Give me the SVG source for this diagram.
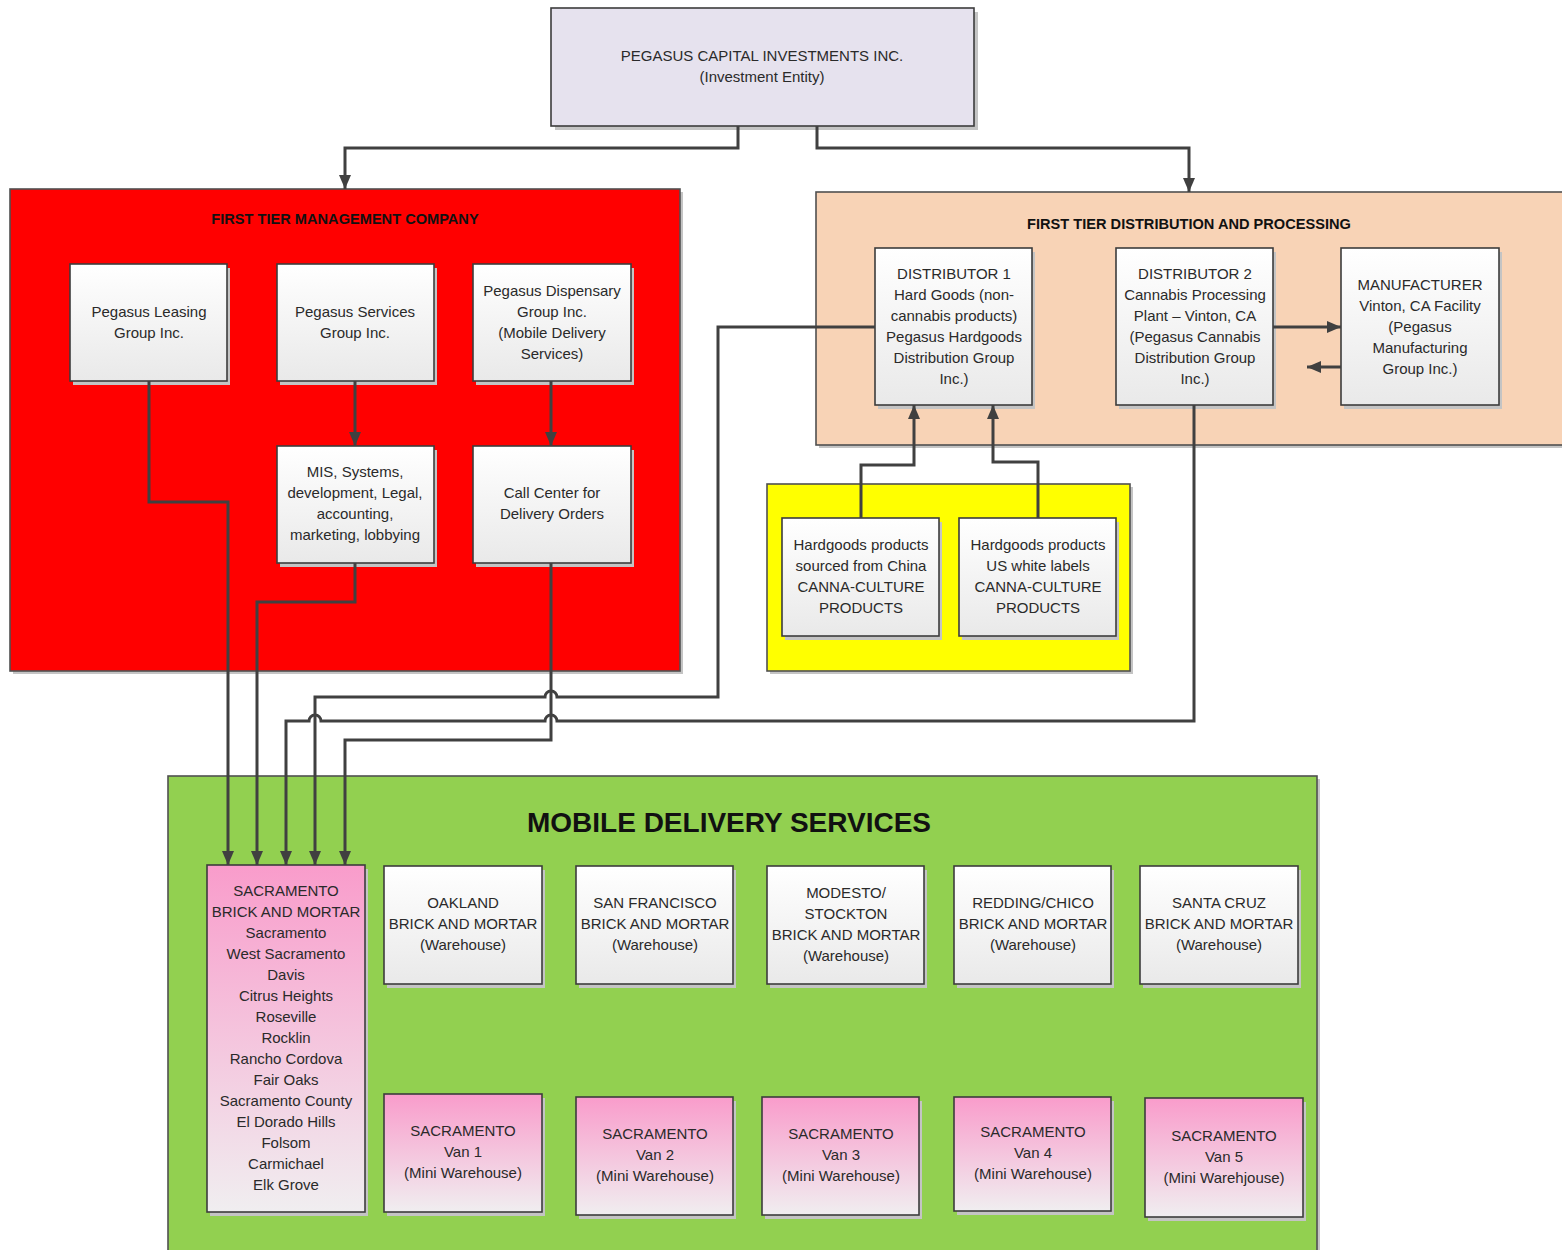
<svg xmlns="http://www.w3.org/2000/svg" width="1562" height="1250" viewBox="0 0 1562 1250">
<defs>
<linearGradient id="gw" x1="0" y1="0" x2="0" y2="1"><stop offset="0" stop-color="#ffffff"/><stop offset="1" stop-color="#e9e9e9"/></linearGradient>
<linearGradient id="gp" x1="0" y1="0" x2="0" y2="1"><stop offset="0" stop-color="#f99ccb"/><stop offset="1" stop-color="#f0eef0"/></linearGradient>
<marker id="ah" viewBox="0 0 14 12" refX="14" refY="6" markerWidth="14" markerHeight="12" markerUnits="userSpaceOnUse" orient="auto"><path d="M0,0 L14,6 L0,12 z" fill="#404040"/></marker>
<style>
.node{fill:url(#gw);stroke:#3c3c3c;stroke-width:1.6}
.pink{fill:url(#gp);stroke:#3c3c3c;stroke-width:1.6}
.sh{fill:#c4c4c4}
.grp{stroke:#505050;stroke-width:1.6}
.t{font-family:"Liberation Sans",Arial,sans-serif;font-size:15px;fill:#2a2a2a;text-anchor:middle}
.h{font-family:"Liberation Sans",Arial,sans-serif;font-size:14.6px;font-weight:bold;fill:#111;text-anchor:middle}
.conn{fill:none;stroke:#404040;stroke-width:3}
.arr{marker-end:url(#ah)}
</style>
</defs>

<g id="groups">
<rect x="13" y="192" width="670" height="482" class="sh"/>
<rect x="10" y="189" width="670" height="482" fill="#ff0000" class="grp"/>
<text x="345" y="224" class="h">FIRST TIER MANAGEMENT COMPANY</text>
<rect x="819" y="195" width="750" height="253" class="sh"/>
<rect x="816" y="192" width="750" height="253" fill="#f8d3b6" class="grp"/>
<text x="1189" y="229" class="h">FIRST TIER DISTRIBUTION AND PROCESSING</text>
<rect x="770" y="487" width="363" height="187" class="sh"/>
<rect x="767" y="484" width="363" height="187" fill="#ffff00" class="grp"/>
<rect x="171" y="779" width="1149" height="480" class="sh"/>
<rect x="168" y="776" width="1149" height="480" fill="#92d050" class="grp"/>
<text x="729" y="832" class="h" style="font-size:28px">MOBILE DELIVERY SERVICES</text>
</g>

<g id="pegasus-capital">
<rect x="555" y="12" width="423" height="118" class="sh"/>
<rect x="551" y="8" width="423" height="118" fill="#e6e2ee" stroke="#3c3c3c" stroke-width="1.6"/>
<text x="762" y="61" class="t">PEGASUS CAPITAL INVESTMENTS INC.</text>
<text x="762" y="82" class="t">(Investment Entity)</text>
</g>

<g id="leasing">
<rect x="73" y="268" width="157" height="117" class="sh"/>
<rect x="70" y="264" width="157" height="117" class="node"/>
<text x="149" y="317" class="t">Pegasus Leasing</text>
<text x="149" y="338" class="t">Group Inc.</text>
</g>
<g id="services">
<rect x="280" y="268" width="157" height="117" class="sh"/>
<rect x="277" y="264" width="157" height="117" class="node"/>
<text x="355" y="317" class="t">Pegasus Services</text>
<text x="355" y="338" class="t">Group Inc.</text>
</g>
<g id="dispensary">
<rect x="476" y="268" width="158" height="117" class="sh"/>
<rect x="473" y="264" width="158" height="117" class="node"/>
<text x="552" y="296" class="t">Pegasus Dispensary</text>
<text x="552" y="317" class="t">Group Inc.</text>
<text x="552" y="338" class="t">(Mobile Delivery</text>
<text x="552" y="359" class="t">Services)</text>
</g>
<g id="mis">
<rect x="280" y="450" width="157" height="117" class="sh"/>
<rect x="277" y="446" width="157" height="117" class="node"/>
<text x="355" y="477" class="t">MIS, Systems,</text>
<text x="355" y="498" class="t">development, Legal,</text>
<text x="355" y="519" class="t">accounting,</text>
<text x="355" y="540" class="t">marketing, lobbying</text>
</g>
<g id="callcenter">
<rect x="476" y="450" width="158" height="117" class="sh"/>
<rect x="473" y="446" width="158" height="117" class="node"/>
<text x="552" y="498" class="t">Call Center for</text>
<text x="552" y="519" class="t">Delivery Orders</text>
</g>

<g id="distributor1">
<rect x="878" y="252" width="157" height="157" class="sh"/>
<rect x="875" y="248" width="157" height="157" class="node"/>
<text x="954" y="279" class="t">DISTRIBUTOR 1</text>
<text x="954" y="300" class="t">Hard Goods (non-</text>
<text x="954" y="321" class="t">cannabis products)</text>
<text x="954" y="342" class="t">Pegasus Hardgoods</text>
<text x="954" y="363" class="t">Distribution Group</text>
<text x="954" y="384" class="t">Inc.)</text>
</g>
<g id="distributor2">
<rect x="1119" y="252" width="157" height="157" class="sh"/>
<rect x="1116" y="248" width="157" height="157" class="node"/>
<text x="1195" y="279" class="t">DISTRIBUTOR 2</text>
<text x="1195" y="300" class="t">Cannabis Processing</text>
<text x="1195" y="321" class="t">Plant – Vinton, CA</text>
<text x="1195" y="342" class="t">(Pegasus Cannabis</text>
<text x="1195" y="363" class="t">Distribution Group</text>
<text x="1195" y="384" class="t">Inc.)</text>
</g>
<g id="manufacturer">
<rect x="1344" y="252" width="158" height="157" class="sh"/>
<rect x="1341" y="248" width="158" height="157" class="node"/>
<text x="1420" y="290" class="t">MANUFACTURER</text>
<text x="1420" y="311" class="t">Vinton, CA Facility</text>
<text x="1420" y="332" class="t">(Pegasus</text>
<text x="1420" y="353" class="t">Manufacturing</text>
<text x="1420" y="374" class="t">Group Inc.)</text>
</g>

<g id="hardgoods-china">
<rect x="785" y="522" width="157" height="118" class="sh"/>
<rect x="782" y="518" width="157" height="118" class="node"/>
<text x="861" y="550" class="t">Hardgoods products</text>
<text x="861" y="571" class="t">sourced from China</text>
<text x="861" y="592" class="t">CANNA-CULTURE</text>
<text x="861" y="613" class="t">PRODUCTS</text>
</g>
<g id="hardgoods-us">
<rect x="962" y="522" width="157" height="118" class="sh"/>
<rect x="959" y="518" width="157" height="118" class="node"/>
<text x="1038" y="550" class="t">Hardgoods products</text>
<text x="1038" y="571" class="t">US white labels</text>
<text x="1038" y="592" class="t">CANNA-CULTURE</text>
<text x="1038" y="613" class="t">PRODUCTS</text>
</g>

<g id="sacramento-bm">
<rect x="210" y="869" width="158" height="347" class="sh"/>
<rect x="207" y="865" width="158" height="347" class="pink"/>
<text x="286" y="896" class="t">SACRAMENTO</text>
<text x="286" y="917" class="t">BRICK AND MORTAR</text>
<text x="286" y="938" class="t">Sacramento</text>
<text x="286" y="959" class="t">West Sacramento</text>
<text x="286" y="980" class="t">Davis</text>
<text x="286" y="1001" class="t">Citrus Heights</text>
<text x="286" y="1022" class="t">Roseville</text>
<text x="286" y="1043" class="t">Rocklin</text>
<text x="286" y="1064" class="t">Rancho Cordova</text>
<text x="286" y="1085" class="t">Fair Oaks</text>
<text x="286" y="1106" class="t">Sacramento County</text>
<text x="286" y="1127" class="t">El Dorado Hills</text>
<text x="286" y="1148" class="t">Folsom</text>
<text x="286" y="1169" class="t">Carmichael</text>
<text x="286" y="1190" class="t">Elk Grove</text>
</g>
<g id="oakland">
<rect x="387" y="870" width="158" height="118" class="sh"/>
<rect x="384" y="866" width="158" height="118" class="node"/>
<text x="463" y="908" class="t">OAKLAND</text>
<text x="463" y="929" class="t">BRICK AND MORTAR</text>
<text x="463" y="950" class="t">(Warehouse)</text>
</g>
<g id="sanfrancisco">
<rect x="579" y="870" width="157" height="118" class="sh"/>
<rect x="576" y="866" width="157" height="118" class="node"/>
<text x="655" y="908" class="t">SAN FRANCISCO</text>
<text x="655" y="929" class="t">BRICK AND MORTAR</text>
<text x="655" y="950" class="t">(Warehouse)</text>
</g>
<g id="modesto">
<rect x="770" y="870" width="157" height="118" class="sh"/>
<rect x="767" y="866" width="157" height="118" class="node"/>
<text x="846" y="898" class="t">MODESTO/</text>
<text x="846" y="919" class="t">STOCKTON</text>
<text x="846" y="940" class="t">BRICK AND MORTAR</text>
<text x="846" y="961" class="t">(Warehouse)</text>
</g>
<g id="redding">
<rect x="957" y="870" width="157" height="118" class="sh"/>
<rect x="954" y="866" width="157" height="118" class="node"/>
<text x="1033" y="908" class="t">REDDING/CHICO</text>
<text x="1033" y="929" class="t">BRICK AND MORTAR</text>
<text x="1033" y="950" class="t">(Warehouse)</text>
</g>
<g id="santacruz">
<rect x="1143" y="870" width="158" height="118" class="sh"/>
<rect x="1140" y="866" width="158" height="118" class="node"/>
<text x="1219" y="908" class="t">SANTA CRUZ</text>
<text x="1219" y="929" class="t">BRICK AND MORTAR</text>
<text x="1219" y="950" class="t">(Warehouse)</text>
</g>

<g id="van1">
<rect x="387" y="1098" width="158" height="118" class="sh"/>
<rect x="384" y="1094" width="158" height="118" class="pink"/>
<text x="463" y="1136" class="t">SACRAMENTO</text>
<text x="463" y="1157" class="t">Van 1</text>
<text x="463" y="1178" class="t">(Mini Warehouse)</text>
</g>
<g id="van2">
<rect x="579" y="1101" width="157" height="118" class="sh"/>
<rect x="576" y="1097" width="157" height="118" class="pink"/>
<text x="655" y="1139" class="t">SACRAMENTO</text>
<text x="655" y="1160" class="t">Van 2</text>
<text x="655" y="1181" class="t">(Mini Warehouse)</text>
</g>
<g id="van3">
<rect x="765" y="1101" width="157" height="118" class="sh"/>
<rect x="762" y="1097" width="157" height="118" class="pink"/>
<text x="841" y="1139" class="t">SACRAMENTO</text>
<text x="841" y="1160" class="t">Van 3</text>
<text x="841" y="1181" class="t">(Mini Warehouse)</text>
</g>
<g id="van4">
<rect x="957" y="1101" width="157" height="114" class="sh"/>
<rect x="954" y="1097" width="157" height="114" class="pink"/>
<text x="1033" y="1137" class="t">SACRAMENTO</text>
<text x="1033" y="1158" class="t">Van 4</text>
<text x="1033" y="1179" class="t">(Mini Warehouse)</text>
</g>
<g id="van5">
<rect x="1148" y="1102" width="158" height="119" class="sh"/>
<rect x="1145" y="1098" width="158" height="119" class="pink"/>
<text x="1224" y="1141" class="t">SACRAMENTO</text>
<text x="1224" y="1162" class="t">Van 5</text>
<text x="1224" y="1183" class="t">(Mini Warehjouse)</text>
</g>

<g id="connectors">
<path class="conn arr" d="M738,126 V148 H345 V189"/>
<path class="conn arr" d="M817,126 V148 H1189 V192"/>
<path class="conn arr" d="M355,381 V446"/>
<path class="conn arr" d="M551,381 V446"/>
<path class="conn arr" d="M1273,327 H1341"/>
<path class="conn arr" d="M1341,367 H1307"/>
<path class="conn arr" d="M861,518 V465 H914 V405"/>
<path class="conn arr" d="M1038,518 V462 H993 V405"/>
<path class="conn arr" d="M149,381 V502 H228 V865"/>
<path class="conn arr" d="M355,563 V602 H257 V865"/>
<path class="conn arr" d="M551,563 V740 H345 V865"/>
<path class="conn arr" d="M875,327 H718 V697 H557 A6,6 0 0 0 545,697 H315 V865"/>
<path class="conn arr" d="M1194,405 V721 H557 A6,6 0 0 0 545,721 H321 A6,6 0 0 0 309,721 H286 V865"/>
</g>
</svg>
